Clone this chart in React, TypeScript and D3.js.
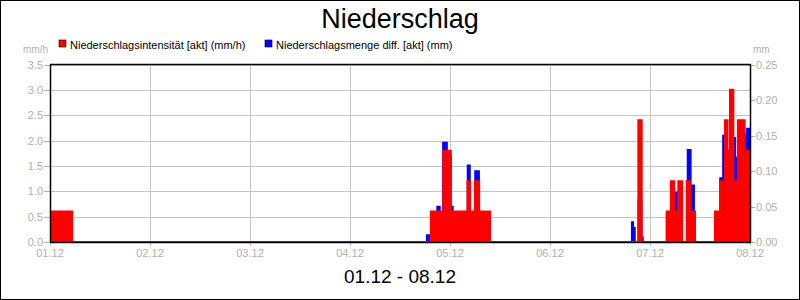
import React from "react";
import * as d3 from "d3";

// ---- data ----
const startDate = "2023-12-01";
const endDate = "2023-12-08";
const leftTicks = [0, 0.5, 1, 1.5, 2, 2.5, 3, 3.5];
const rightTicks = [0, 0.05, 0.1, 0.15, 0.2, 0.25];

// Niederschlagsintensität [akt] (mm/h), step values at hours after 01.12 00:00
const intensityHours = [0, 5.3, 91.4, 94.4, 96.2, 100.2, 100.8, 102, 103, 105.6, 141.2, 142, 148, 149, 149.8, 150.8, 151.7, 152.8, 153.6, 154.8, 159.6, 160.8, 161.3, 162, 162.6, 163.2, 164, 164.9, 165.1, 165.6, 165.7, 166.2, 166.4, 166.7, 167.2, 167.3, 168];
const intensityValues = [0.6, 0, 0.6, 1.8, 0.6, 1.2, 0.6, 1.2, 0.6, 0, 2.4, 0, 0.6, 1.2, 0.6, 1.2, 0, 1.2, 0.6, 0, 0.6, 1.2, 0.6, 2.4, 1.8, 3.0, 1.2, 1.2, 2.4, 0, 2.4, 0, 2.4, 1.8, 0, 1.8, 1.8];

// Niederschlagsmenge diff. [akt] (mm)
const amountHours = [0, 0.5, 90.4, 91.4, 92.9, 93.6, 94.3, 95.3, 96.2, 96.7, 100.2, 100.8, 102, 103, 105.6, 139.6, 140, 140.4, 141.2, 142, 142.3, 148, 150, 150.5, 151.6, 153, 153.8, 154.6, 159.6, 160.8, 161.5, 162, 164, 164.5, 164.8, 165.4, 166.8, 167.2, 168];
const amountValues = [0.008, 0, 0.01, 0.04, 0.05, 0.04, 0.14, 0.12, 0.05, 0.04, 0.108, 0.04, 0.1, 0.04, 0, 0.028, 0.02, 0, 0.06, 0.007, 0, 0.04, 0.07, 0.04, 0, 0.13, 0.08, 0, 0.04, 0.09, 0.15, 0.1, 0.147, 0.1, 0.119, 0.1, 0.152, 0.16, 0.16];

const title = "Niederschlag";
const subtitle = "01.12 - 08.12";
const legendLabels = ["Niederschlagsintensität [akt] (mm/h)", "Niederschlagsmenge diff. [akt] (mm)"];
const leftUnit = "mm/h";
const rightUnit = "mm";

const FONT = "'Liberation Sans', Arial, sans-serif";
const GRAY = "#b0b0b0";
const GRID = "#c4c4c4";

export default function App() {
  const W = 800, H = 300;
  const left = 50, right = 750, top = 64.5, bottom = 242;
  const t0 = new Date(startDate + "T00:00:00Z");
  const t1 = new Date(endDate + "T00:00:00Z");
  const toDate = (h: number) => new Date(t0.getTime() + h * 3600e3);

  const x = d3.scaleUtc().domain([t0, t1]).range([left, right]);
  const yL = d3.scaleLinear().domain([0, 3.5]).range([bottom, top]);
  const yR = d3.scaleLinear().domain([0, 0.25]).range([bottom, top]);
  const days = d3.utcDay.range(t0, d3.utcDay.offset(t1, 1));
  const fmt = d3.utcFormat("%d.%m");

  const red = intensityHours.map((h, i) => ({ t: toDate(h), v: intensityValues[i] }));
  const blue = amountHours.map((h, i) => ({ t: toDate(h), v: amountValues[i] }));

  const areaL = d3.area<{ t: Date; v: number }>().x(d => x(d.t)).y0(yL(0)).y1(d => yL(d.v)).curve(d3.curveStepAfter);
  const areaR = d3.area<{ t: Date; v: number }>().x(d => x(d.t)).y0(yR(0)).y1(d => yR(d.v)).curve(d3.curveStepAfter);
  const lineL = d3.line<{ t: Date; v: number }>().x(d => x(d.t)).y(d => yL(d.v)).curve(d3.curveStepAfter);
  const lineR = d3.line<{ t: Date; v: number }>().x(d => x(d.t)).y(d => yR(d.v)).curve(d3.curveStepAfter);

  return (
    <svg width={W} height={H} style={{ position: "absolute", left: 0, top: 0, background: "#fff" }} fontFamily={FONT}>
      <rect x={0.5} y={0.5} width={W - 1} height={H - 1} fill="#fff" stroke="#000" />
      <text x={400} y={28} textAnchor="middle" fontSize={27} fill="#000">{title}</text>

      {/* legend */}
      <rect x={59} y={40} width={7} height={7} fill="#ff0000" stroke="#000" strokeWidth={0.6} />
      <text x={70} y={48.5} fontSize={11} fill="#000">{legendLabels[0]}</text>
      <rect x={265} y={40} width={7} height={7} fill="#0000ff" stroke="#000" strokeWidth={0.6} />
      <text x={276} y={48.5} fontSize={11} fill="#000">{legendLabels[1]}</text>
      <text x={48} y={53} textAnchor="end" fontSize={10} fill={GRAY}>{leftUnit}</text>
      <text x={753} y={53} fontSize={10} fill={GRAY}>{rightUnit}</text>

      {/* grid */}
      {leftTicks.map(v => (
        <g key={"l" + v}>
          <line x1={left} x2={right} y1={Math.round(yL(v)) + 0.5} y2={Math.round(yL(v)) + 0.5} stroke={GRID} />
          <line x1={left - 6} x2={left} y1={Math.round(yL(v)) + 0.5} y2={Math.round(yL(v)) + 0.5} stroke={GRAY} />
          <text x={left - 7} y={yL(v) + 4} textAnchor="end" fontSize={11} fill={GRAY}>{v.toFixed(1)}</text>
        </g>
      ))}
      {rightTicks.map(v => (
        <g key={"r" + v}>
          <line x1={right} x2={right + 5} y1={Math.round(yR(v)) + 0.5} y2={Math.round(yR(v)) + 0.5} stroke={GRAY} />
          <text x={right + 6} y={yR(v) + 4} fontSize={11} fill={GRAY}>{v.toFixed(2)}</text>
        </g>
      ))}
      {days.map(d => (
        <g key={d.getTime()}>
          <line x1={Math.round(x(d)) + 0.5} x2={Math.round(x(d)) + 0.5} y1={top} y2={bottom + 4} stroke={GRID} />
          <text x={x(d)} y={257} textAnchor="middle" fontSize={11} fill={GRAY}>{fmt(d)}</text>
        </g>
      ))}

      {/* series */}
      <path d={areaR(blue) || ""} fill="#0000ff" />
      <path d={lineR(blue) || ""} fill="none" stroke="#0000ff" strokeWidth={1.5} />
      <path d={areaL(red) || ""} fill="#ff0000" />
      <path d={lineL(red) || ""} fill="none" stroke="#ff0000" strokeWidth={2} />

      {/* frame */}
      <line x1={left + 0.5} x2={left + 0.5} y1={top} y2={bottom} stroke="#000" strokeWidth={1.5} />
      <line x1={right + 0.5} x2={right + 0.5} y1={top} y2={bottom} stroke="#000" strokeWidth={1.5} />
      <line x1={left} x2={right + 1} y1={top} y2={top} stroke="#000" strokeWidth={1.5} />
      <line x1={left} x2={right + 1} y1={bottom + 0.5} y2={bottom + 0.5} stroke="#000" strokeWidth={1.5} />

      <text x={400} y={283} textAnchor="middle" fontSize={19} fill="#000">{subtitle}</text>
    </svg>
  );
}
